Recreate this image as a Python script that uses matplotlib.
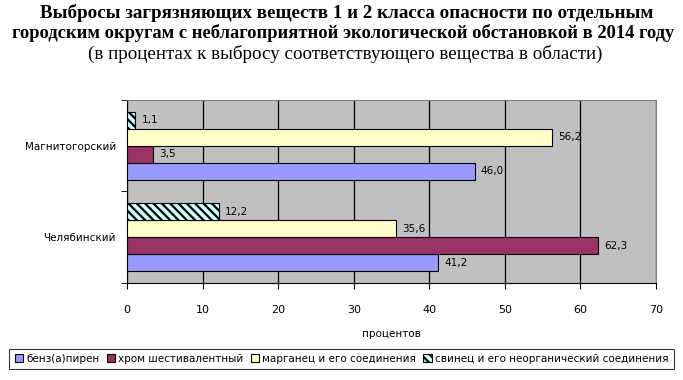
import matplotlib
matplotlib.use("Agg")
import matplotlib.pyplot as plt
import numpy as np
from matplotlib.patches import Patch

# data
cities = ["Челябинский", "Магнитогорский"]
substances = ["бенз(а)пирен", "хром шестивалентный",
              "марганец и его соединения", "свинец и его неорганический соединения"]
benzapiren = [41.2, 46.0]
chrom = [62.3, 3.5]
marganec = [35.6, 56.2]
svinec = [12.2, 1.1]

series = [benzapiren, chrom, marganec, svinec]
colors = ["#9999FF", "#993366", "#FFFFCC", "#CCFFFF"]
hatches = [None, None, None, "\\\\\\\\"]

plt.rcParams["hatch.linewidth"] = 1.6

fig = plt.figure(figsize=(6.83, 3.8), dpi=100)
ax = fig.add_axes([0.186, 0.2553, 0.7745, 0.4816])
ax.set_facecolor("#C0C0C0")

y = np.arange(len(cities))
h = 17 / 91
for i, (vals, col, hat) in enumerate(zip(series, colors, hatches)):
    pos = y + (i - 1.5) * h
    ax.barh(pos, vals, height=h, color=col, edgecolor="black", linewidth=0.8,
            hatch=hat, zorder=3)
    for p, v in zip(pos, vals):
        ax.text(v + 0.8, p, f"{v:.1f}".replace(".", ","), va="center", ha="left",
                fontsize=7.5, family="DejaVu Sans", zorder=4)

ax.set_xlim(0, 70)
ax.set_ylim(-0.5, 1.5)
ax.set_xticks(np.arange(0, 71, 10))
ax.xaxis.grid(True, color="black", linewidth=0.9, zorder=1)
ax.tick_params(axis="x", direction="out", length=4, labelsize=8, pad=12)

ax.set_yticks(y)
ax.set_yticklabels(cities, fontsize=7.5)
ax.tick_params(axis="y", which="major", length=0, pad=8)
ax.set_yticks([-0.5, 0.5, 1.5], minor=True)
ax.tick_params(axis="y", which="minor", direction="out", length=4)

for s in ["top", "right"]:
    ax.spines[s].set_color("#808080")
ax.spines["left"].set_color("black")
ax.spines["bottom"].set_color("black")

ax.set_xlabel("процентов", fontsize=7.5, labelpad=10)

fig.text(0.507, 0.967, "Выбросы загрязняющих веществ 1 и 2 класса опасности по отдельным",
         ha="center", va="center", fontsize=13.7, fontweight="bold", family="Liberation Serif")
fig.text(0.503, 0.912, "городским округам с неблагоприятной экологической обстановкой в 2014 году",
         ha="center", va="center", fontsize=13.3, fontweight="bold", family="Liberation Serif")
fig.text(0.505, 0.857, "(в процентах к выбросу соответствующего вещества в области)",
         ha="center", va="center", fontsize=13.7, family="Liberation Serif")

handles = [Patch(facecolor=c, edgecolor="black", hatch=hh, linewidth=0.8)
           for c, hh in zip(colors, hatches)]
leg = fig.legend(handles, substances, loc="center", bbox_to_anchor=(0.5, 0.056),
                 ncol=4, fontsize=7.5, frameon=True, fancybox=False,
                 handlelength=0.8, handleheight=0.8, handletextpad=0.3,
                 columnspacing=0.7, borderpad=0.5)
leg.get_frame().set_edgecolor("black")
leg.get_frame().set_linewidth(0.8)

fig.savefig("out.png", dpi=100)
